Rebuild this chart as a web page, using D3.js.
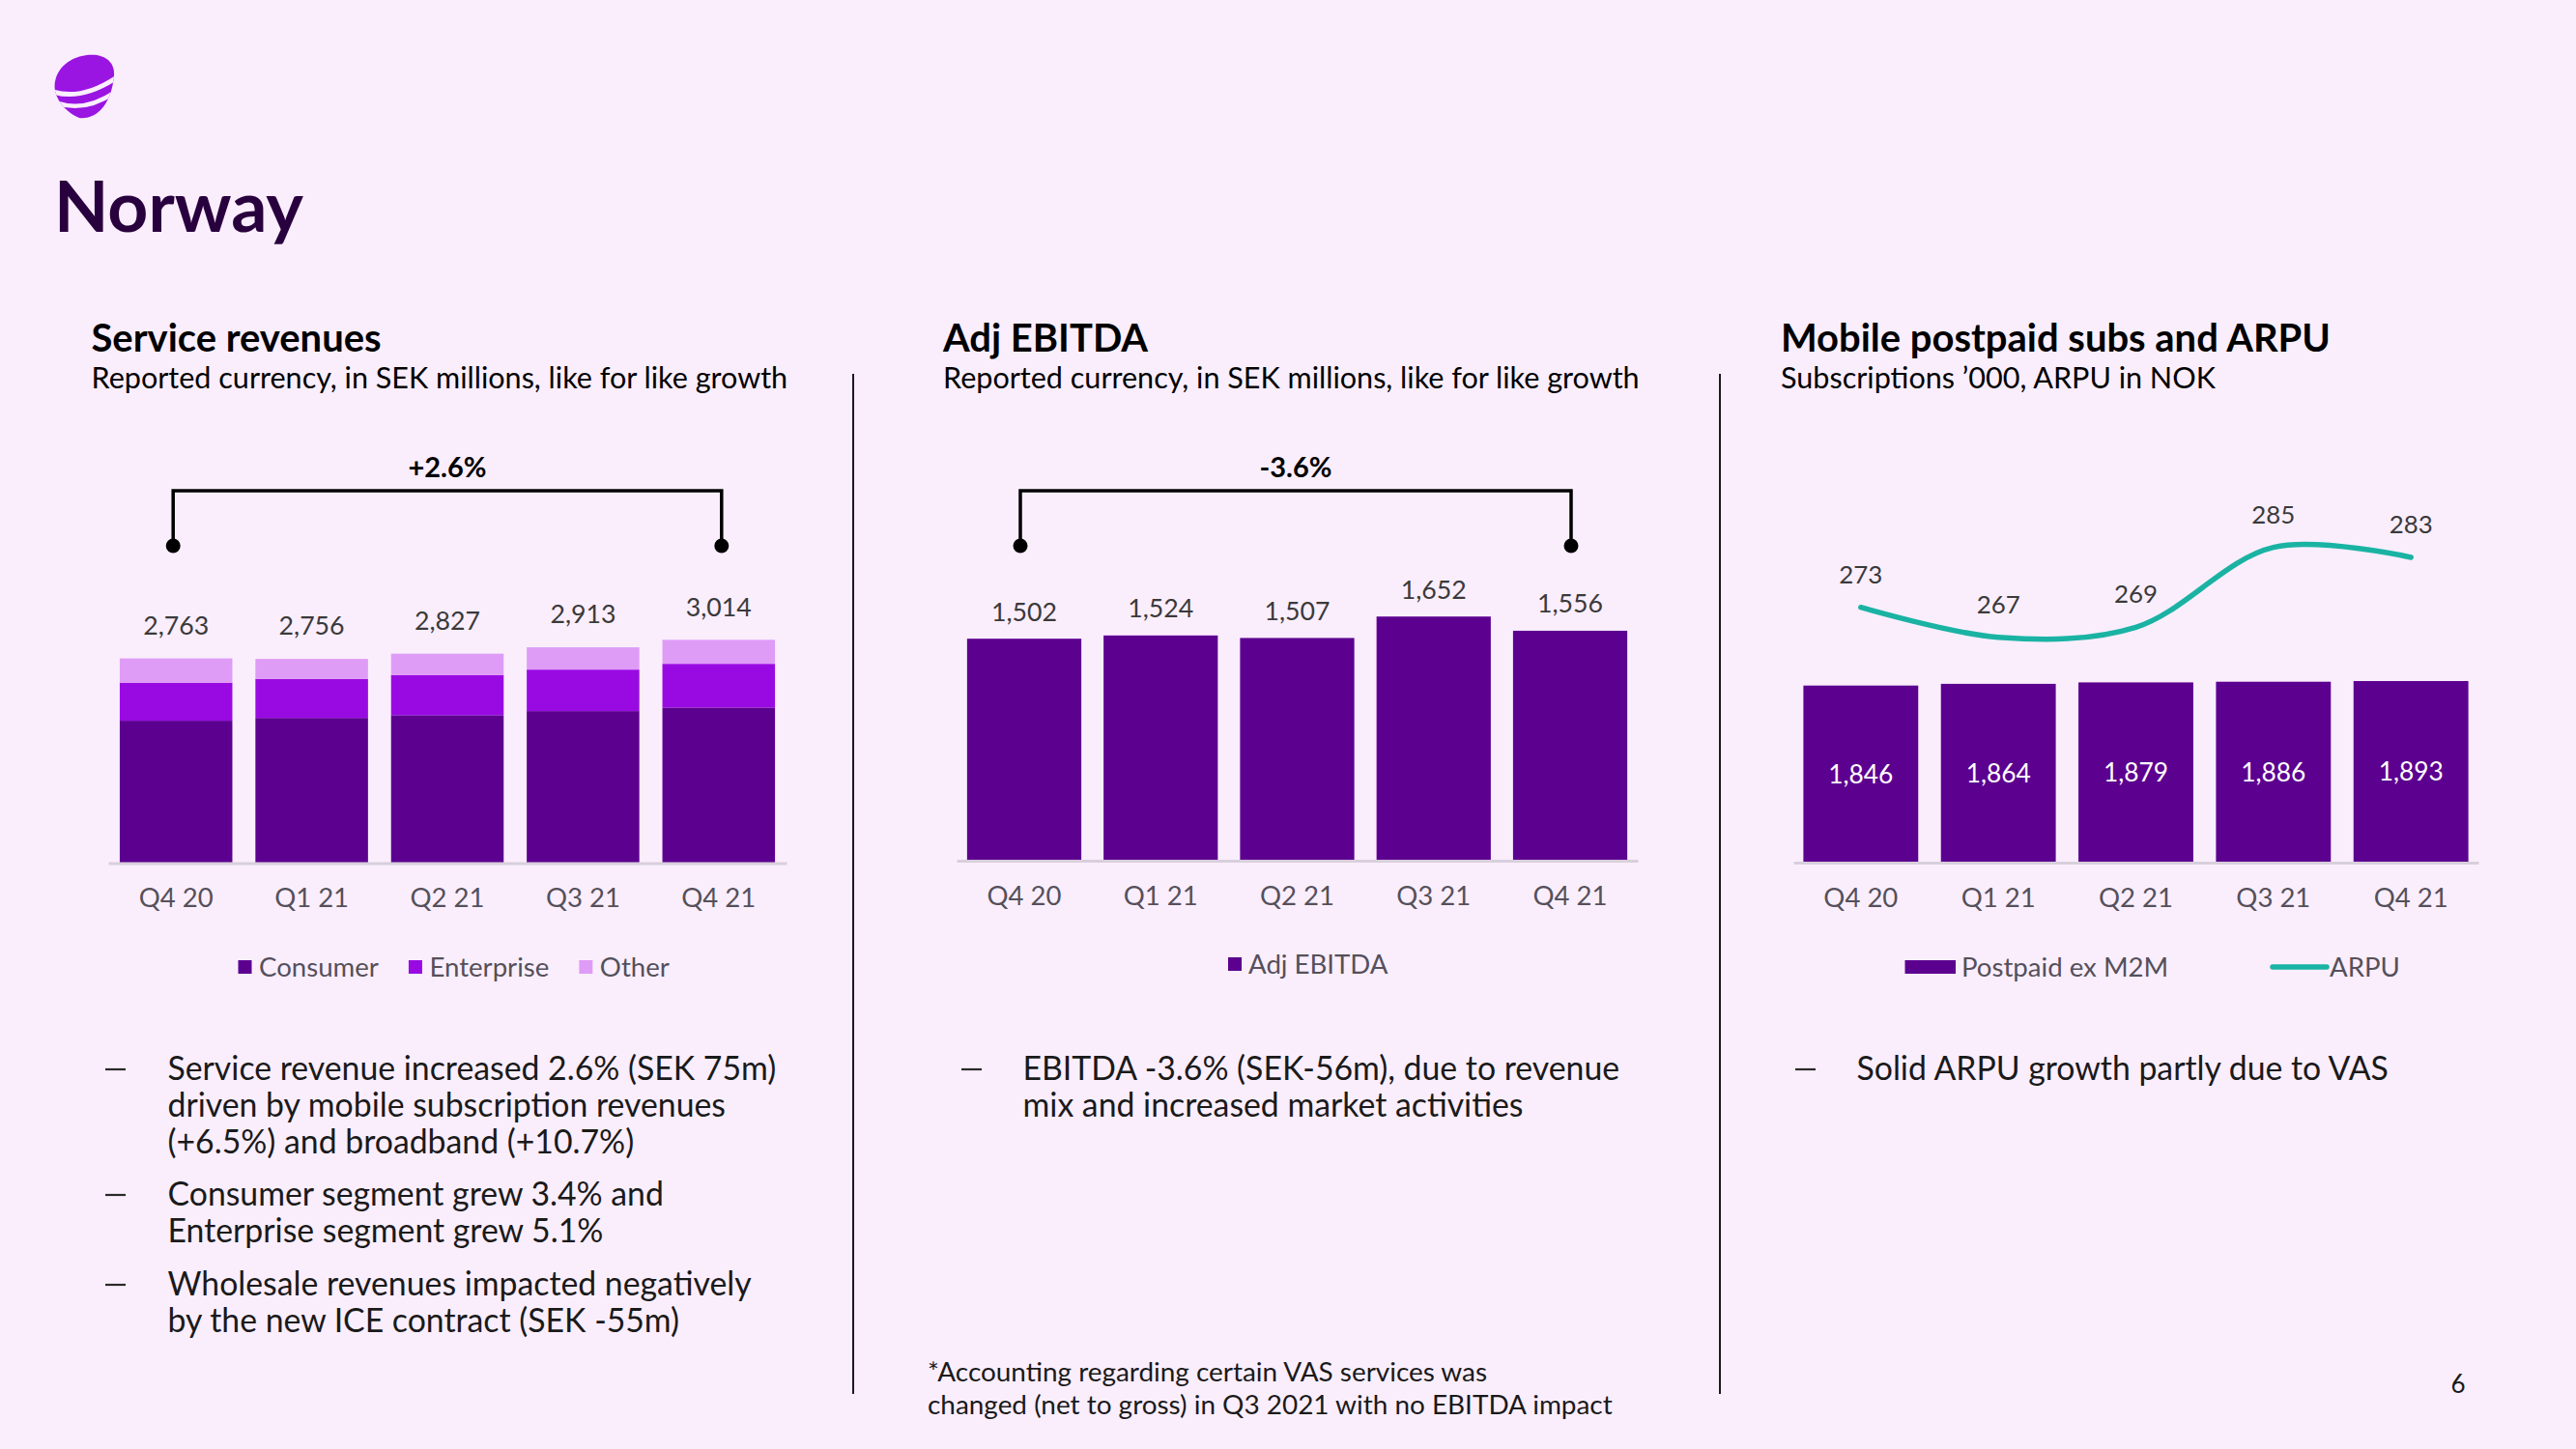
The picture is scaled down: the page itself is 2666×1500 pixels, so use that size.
<!DOCTYPE html>
<html>
<head>
<meta charset="utf-8">
<script src="https://cdn.jsdelivr.net/npm/d3@7"></script>
<style>
  html, body { margin: 0; padding: 0; background: #faeefd; }
  svg { display: block; }
</style>
</head>
<body>
<svg id="chart" width="2666" height="1500"></svg>
<script>
// ---------------- DATA ----------------
const categories = ["Q4 20", "Q1 21", "Q2 21", "Q3 21", "Q4 21"];
const consumer   = [1922, 1960, 1997, 2052, 2100];
const enterprise = [514, 525, 540, 560, 590];
const other      = [327, 271, 290, 301, 324];
const serviceTotals = [2763, 2756, 2827, 2913, 3014];
const adjEbitda  = [1502, 1524, 1507, 1652, 1556];
const postpaid   = [1846, 1864, 1879, 1886, 1893];
const arpu       = [273, 267, 269, 285, 283];
const growthLabels = ["+2.6%", "-3.6%"];
const segmentNames = ["Consumer", "Enterprise", "Other"];
const pageTitle = "Norway";
const chartTitles = ["Service revenues", "Adj EBITDA", "Mobile postpaid subs and ARPU"];
const chartSubtitles = [
  "Reported currency, in SEK millions, like for like growth",
  "Reported currency, in SEK millions, like for like growth",
  "Subscriptions \u2019000, ARPU in NOK"
];
const bullets1 = [
  ["Service revenue increased 2.6% (SEK 75m)", "driven by mobile subscription revenues", "(+6.5%) and broadband (+10.7%)"],
  ["Consumer segment grew 3.4% and", "Enterprise segment grew 5.1%"],
  ["Wholesale revenues impacted negatively", "by the new ICE contract (SEK -55m)"]
];
const bullets2 = [["EBITDA -3.6% (SEK-56m), due to revenue", "mix and increased market activities"]];
const bullets3 = [["Solid ARPU growth partly due to VAS"]];
const footnote = ["*Accounting regarding certain VAS services was", "changed (net to gross) in Q3 2021 with no EBITDA impact"];
const pageNumber = "6";

// ---------------- STYLE ----------------
const FONT = "Lato, 'Open Sans', 'Noto Sans', sans-serif";
const C = {
  consumer: "#5c0090", enterprise: "#990ae3", other: "#df9cf6",
  teal: "#1ab3a3", deep: "#29003e", text: "#1a1a1a", grey: "#55505a",
  val: "#3a3a3a", axis: "#d8cfdc", bg: "#faeefd"
};

const svg = d3.select("#chart");
svg.append("rect").attr("width", 2666).attr("height", 1500).attr("fill", C.bg);

// measure helper to size fonts to target widths
const meas = svg.append("text").attr("font-family", FONT).attr("x", -9999).attr("y", -9999);
function fit(str, weight, target) {
  meas.attr("font-size", 100).attr("font-weight", weight).text(str);
  const w = meas.node().getComputedTextLength();
  return 100 * target / w;
}
const S = {
  norway: fit("Norway", 700, 258),
  title: fit("Mobile postpaid subs and ARPU", 700, 569),
  sub: fit("Reported currency, in SEK millions, like for like growth", 400, 721),
  bullet: fit("Service revenue increased 2.6% (SEK 75m)", 400, 630),
  foot: fit("changed (net to gross) in Q3 2021 with no EBITDA impact", 400, 709),
  tick: fit("Q4 20", 400, 77),
  val: fit("2,763", 400, 68),
  legend: fit("Consumer", 400, 124),
  bracket: fit("+2.6%", 700, 81),
  arpu: fit("273", 400, 45),
  inner: fit("1,846", 400, 67)
};
meas.remove();

function txt(g, x, y, str, size, opts = {}) {
  return g.append("text")
    .attr("x", x).attr("y", y)
    .attr("dy", opts.dy !== undefined ? opts.dy : "0.35em")
    .attr("font-family", FONT)
    .attr("font-size", size)
    .attr("font-weight", opts.weight || 400)
    .attr("fill", opts.fill || C.text)
    .attr("text-anchor", opts.anchor || "start")
    .text(str);
}

// ---------------- LOGO ----------------
const logo = svg.append("g").attr("transform", "translate(54,56)");
const defs = svg.append("defs");
defs.append("clipPath").attr("id", "logoClip").append("path")
  .attr("d", "M28,66 C18,62 6,52 3,38 C0,22 12,4 36,1 C54,-1 65,8 64,22 C63,36 58,50 50,58 C44,64 36,67 28,66 Z");
const lg = logo.append("g").attr("clip-path", "url(#logoClip)");
lg.append("rect").attr("x", 0).attr("y", -2).attr("width", 70).attr("height", 72).attr("fill", "#9a14e2");
lg.append("path").attr("d", "M-2,38 Q30,50 70,22").attr("stroke", C.bg).attr("stroke-width", 5).attr("fill", "none");
lg.append("path").attr("d", "M6,51 Q36,61 70,36").attr("stroke", C.bg).attr("stroke-width", 4.5).attr("fill", "none");

// ---------------- HEADINGS ----------------
txt(svg, 56, 240, pageTitle, S.norway, { weight: 700, fill: C.deep, dy: 0 });
const titleX = [94.5, 976, 1843];
titleX.forEach((x, i) => {
  txt(svg, x, 364, chartTitles[i], S.title, { weight: 700, fill: "#000", dy: 0 });
  txt(svg, x, 402, chartSubtitles[i], S.sub, { fill: "#000", dy: 0 });
});

// dividers
[883, 1780].forEach(x => {
  svg.append("line").attr("x1", x).attr("x2", x).attr("y1", 387).attr("y2", 1443)
    .attr("stroke", "#1a1a1a").attr("stroke-width", 2);
});

// ---------------- helpers ----------------
function drawAxis(g, x, baseline) {
  const ax = g.append("g").attr("transform", `translate(0,${baseline})`)
    .call(d3.axisBottom(x).tickSize(0));
  ax.select(".domain").attr("stroke", C.axis).attr("stroke-width", 3);
  ax.selectAll("text")
    .attr("font-family", FONT).attr("font-size", S.tick).attr("fill", C.grey)
    .attr("y", 36).attr("dy", "0.35em");
}
function drawBracket(g, x1, x2, label) {
  const yTop = 508, yDot = 565;
  g.append("path")
    .attr("d", d3.line()([[x1, yDot], [x1, yTop], [x2, yTop], [x2, yDot]]))
    .attr("fill", "none").attr("stroke", "#000").attr("stroke-width", 3.5);
  [x1, x2].forEach(x => g.append("circle").attr("cx", x).attr("cy", yDot).attr("r", 7.5).attr("fill", "#000"));
  txt(g, (x1 + x2) / 2, 484, label, S.bracket, { weight: 700, anchor: "middle", fill: "#000" });
}
function drawBullets(g, groups, dashX, textX, ys, size) {
  let k = 0;
  groups.forEach(lines => {
    g.append("line").attr("x1", dashX).attr("x2", dashX + 21).attr("y1", ys[k] + 1).attr("y2", ys[k] + 1)
      .attr("stroke", "#2a2a2a").attr("stroke-width", 2.2);
    lines.forEach(line => { txt(g, textX, ys[k], line, size, { fill: C.text }); k++; });
  });
}

// ---------------- CHART 1: Service revenues ----------------
const g1 = svg.append("g");
const x1 = d3.scaleBand().domain(categories).range([112, 814]).paddingInner(0.17).paddingOuter(0.085);
const y1 = d3.scaleLinear().domain([0, 4000]).range([893.5, 586.7]);
const stackData = categories.map((c, i) => ({ cat: c, Consumer: consumer[i], Enterprise: enterprise[i], Other: other[i] }));
const stack = d3.stack().keys(segmentNames)(stackData);
const segColors = { Consumer: C.consumer, Enterprise: C.enterprise, Other: C.other };
g1.selectAll("g.layer").data(stack).join("g").attr("class", "layer")
  .attr("fill", d => segColors[d.key])
  .selectAll("rect").data(d => d).join("rect")
  .attr("x", d => x1(d.data.cat)).attr("width", x1.bandwidth())
  .attr("y", d => y1(d[1])).attr("height", d => y1(d[0]) - y1(d[1]));
drawAxis(g1, x1, 893.5);
categories.forEach((c, i) => {
  txt(g1, x1(c) + x1.bandwidth() / 2, y1(serviceTotals[i]) - 34, d3.format(",")(serviceTotals[i]), S.val, { anchor: "middle", fill: C.val });
});
drawBracket(g1, x1(categories[0]) + x1.bandwidth() / 2 - 3, x1(categories[4]) + x1.bandwidth() / 2 + 3, growthLabels[0]);
// legend
{
  let lx = 246.5;
  segmentNames.forEach(n => {
    g1.append("rect").attr("x", lx).attr("y", 994).attr("width", 14).attr("height", 14).attr("fill", segColors[n]);
    const t = txt(g1, lx + 21.5, 1001, n, S.legend, { fill: C.grey });
    lx += 21.5 + t.node().getComputedTextLength() + 31;
  });
}
drawBullets(g1, bullets1, 109, 173.5, [1106, 1144, 1182, 1236, 1274, 1329, 1367], S.bullet);

// ---------------- CHART 2: Adj EBITDA ----------------
const g2 = svg.append("g");
const x2 = d3.scaleBand().domain(categories).range([990, 1695]).paddingInner(0.163).paddingOuter(0.077);
const y2 = d3.scaleLinear().domain([0, 2000]).range([891, 585]);
g2.selectAll("rect.bar").data(adjEbitda).join("rect").attr("class", "bar")
  .attr("x", (d, i) => x2(categories[i])).attr("width", x2.bandwidth())
  .attr("y", d => y2(d)).attr("height", d => y2(0) - y2(d)).attr("fill", C.consumer);
drawAxis(g2, x2, 891);
adjEbitda.forEach((v, i) => {
  txt(g2, x2(categories[i]) + x2.bandwidth() / 2, y2(v) - 28, d3.format(",")(v), S.val, { anchor: "middle", fill: C.val });
});
drawBracket(g2, x2(categories[0]) + x2.bandwidth() / 2 - 4, x2(categories[4]) + x2.bandwidth() / 2 + 1, growthLabels[1]);
g2.append("rect").attr("x", 1271).attr("y", 991).attr("width", 14).attr("height", 14).attr("fill", C.consumer);
txt(g2, 1292, 998, "Adj EBITDA", S.legend, { fill: C.grey });
drawBullets(g2, bullets2, 995, 1058.5, [1106, 1144], S.bullet);
txt(g2, 960, 1420, footnote[0], S.foot, { fill: C.text });
txt(g2, 960, 1454, footnote[1], S.foot, { fill: C.text });

// ---------------- CHART 3: Postpaid subs & ARPU ----------------
const g3 = svg.append("g");
const x3 = d3.scaleBand().domain(categories).range([1856, 2565]).paddingInner(0.165).paddingOuter(0.073);
const y3 = d3.scaleLinear().domain([0, 3000]).range([893, 595.1]);
const yA = d3.scaleLinear().domain([220, 300]).range([902.7, 489.1]);
g3.selectAll("rect.bar").data(postpaid).join("rect").attr("class", "bar")
  .attr("x", (d, i) => x3(categories[i])).attr("width", x3.bandwidth())
  .attr("y", d => y3(d)).attr("height", d => y3(0) - y3(d)).attr("fill", C.consumer);
drawAxis(g3, x3, 893);
postpaid.forEach((v, i) => {
  txt(g3, x3(categories[i]) + x3.bandwidth() / 2, (y3(v) + y3(0)) / 2, d3.format(",")(v), S.inner, { anchor: "middle", fill: "#ffffff" });
});
const cx3 = i => x3(categories[i]) + x3.bandwidth() / 2;
g3.append("path").datum(arpu)
  .attr("d", d3.line().x((d, i) => cx3(i)).y(d => yA(d)).curve(d3.curveCatmullRom.alpha(0.5)))
  .attr("fill", "none").attr("stroke", C.teal).attr("stroke-width", 5.5).attr("stroke-linecap", "round");
arpu.forEach((v, i) => {
  txt(g3, cx3(i), yA(v) - 34, String(v), S.arpu, { anchor: "middle", fill: C.val });
});
// legend
g3.append("rect").attr("x", 1971.5).attr("y", 994).attr("width", 52.5).attr("height", 14).attr("fill", C.consumer);
txt(g3, 2030, 1001, "Postpaid ex M2M", S.legend, { fill: C.grey });
g3.append("line").attr("x1", 2352).attr("x2", 2408).attr("y1", 1001).attr("y2", 1001)
  .attr("stroke", C.teal).attr("stroke-width", 5.5).attr("stroke-linecap", "round");
txt(g3, 2411, 1001, "ARPU", S.legend, { fill: C.grey });
drawBullets(g3, bullets3, 1858, 1921.5, [1106], S.bullet);

txt(svg, 2544, 1433, pageNumber, 26, { anchor: "middle", fill: C.text });
</script>
</body>
</html>
